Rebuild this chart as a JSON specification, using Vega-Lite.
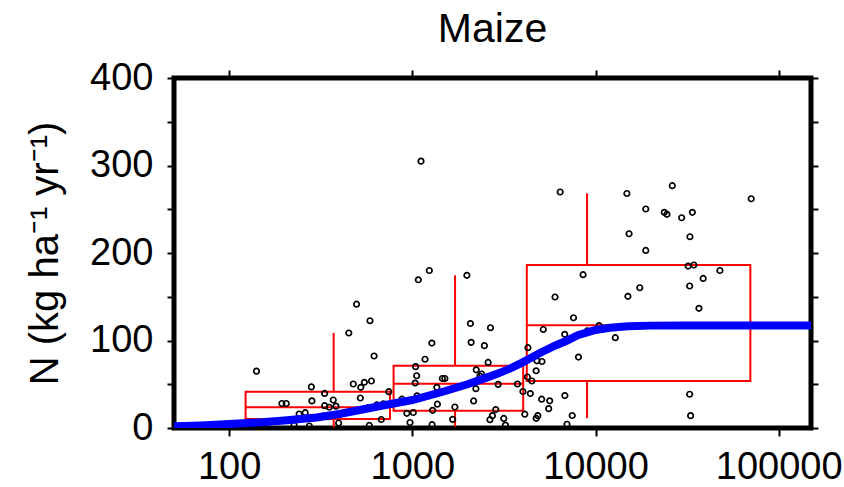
{
  "$schema": "https://vega.github.io/schema/vega-lite/v6.json",
  "width": 637,
  "height": 350,
  "autosize": "none",
  "padding": {"left": 174, "top": 78, "right": 33, "bottom": 59},
  "background": "white",
  "title": {"text": "Maize", "font": "Liberation Sans", "fontSize": 41, "fontWeight": "normal", "color": "black", "anchor": "middle", "offset": 8},
  "config": {
    "view": {"stroke": "black", "strokeWidth": 5},
    "axis": {"domain": false, "grid": false, "tickColor": "black", "tickWidth": 2, "labelColor": "black", "labelFont": "Liberation Sans", "labelFontSize": 38, "titleFont": "Liberation Sans", "titleFontSize": 40, "titleFontWeight": "normal", "titleColor": "black"}
  },
  "datasets": {
    "boxes": [
      {"x1": 123, "x2": 755, "xw": 372, "lo": 1, "q1": 10.3, "med": 23.7, "q3": 41.5, "hi": 108.6},
      {"x1": 790, "x2": 4027, "xw": 1711, "lo": 1.5, "q1": 19.8, "med": 50.6, "q3": 71.2, "hi": 174.5},
      {"x1": 4214, "x2": 70000, "xw": 8987, "lo": 11.1, "q1": 53.7, "med": 117.3, "q3": 186.3, "hi": 268.2}
    ],
    "pts": [
      {"x": 141, "n": 65}, {"x": 205, "n": 28}, {"x": 194, "n": 28}, {"x": 241, "n": 16}, {"x": 260, "n": 17.5}, {"x": 281, "n": 47}, {"x": 283, "n": 31}, {"x": 332, "n": 39.5}, {"x": 332, "n": 25.5}, {"x": 352, "n": 23.7}, {"x": 383, "n": 25}, {"x": 370, "n": 32}, {"x": 326, "n": 13.7}, {"x": 347, "n": 13}, {"x": 396, "n": 5.7}, {"x": 450, "n": 108.6}, {"x": 496, "n": 141.5}, {"x": 587, "n": 122.6}, {"x": 618, "n": 82.3}, {"x": 476, "n": 50.3}, {"x": 523, "n": 46.5}, {"x": 547, "n": 52.2}, {"x": 598, "n": 53.7}, {"x": 520, "n": 34.3}, {"x": 575, "n": 23.2}, {"x": 641, "n": 26.5}, {"x": 695, "n": 27.7}, {"x": 677, "n": 9.7}, {"x": 582, "n": 2.9}, {"x": 744, "n": 41.5}, {"x": 226, "n": 3.4}, {"x": 274, "n": 2.3},
      {"x": 1115, "n": 305}, {"x": 1238, "n": 180}, {"x": 1078, "n": 169.4}, {"x": 1985, "n": 174.5}, {"x": 2075, "n": 119.4}, {"x": 2669, "n": 114.6}, {"x": 1278, "n": 97.1}, {"x": 2094, "n": 97.9}, {"x": 2473, "n": 94.1}, {"x": 1173, "n": 78.6}, {"x": 1042, "n": 70.1}, {"x": 2592, "n": 74.9}, {"x": 2232, "n": 66.5}, {"x": 1056, "n": 59.7}, {"x": 1458, "n": 56.6}, {"x": 1505, "n": 56.6}, {"x": 2388, "n": 61.7}, {"x": 2338, "n": 59.4}, {"x": 1036, "n": 51.4}, {"x": 1361, "n": 46.5}, {"x": 2223, "n": 44.9}, {"x": 2940, "n": 49.9}, {"x": 3748, "n": 50.3}, {"x": 1061, "n": 36.8}, {"x": 877, "n": 32.9}, {"x": 1370, "n": 27.2}, {"x": 2160, "n": 30.9}, {"x": 1707, "n": 24}, {"x": 1290, "n": 20.2}, {"x": 933, "n": 16.8}, {"x": 1012, "n": 17.7}, {"x": 2853, "n": 21.1}, {"x": 2736, "n": 14.1}, {"x": 2652, "n": 9.5}, {"x": 3155, "n": 10.9}, {"x": 4110, "n": 15.8}, {"x": 971, "n": 6.3}, {"x": 1281, "n": 3.8}, {"x": 1660, "n": 9.9}, {"x": 3222, "n": 3.4}, {"x": 4276, "n": 91.8}, {"x": 4404, "n": 39.4}, {"x": 4015, "n": 41.7}, {"x": 4250, "n": 58.3},
      {"x": 6412, "n": 269.7}, {"x": 14830, "n": 268}, {"x": 26240, "n": 276.9}, {"x": 70740, "n": 262}, {"x": 18800, "n": 250.3}, {"x": 23730, "n": 246.5}, {"x": 24530, "n": 244.2}, {"x": 29510, "n": 240.3}, {"x": 33760, "n": 246.5}, {"x": 15240, "n": 222}, {"x": 32750, "n": 218.6}, {"x": 18800, "n": 202.9}, {"x": 8550, "n": 175.2}, {"x": 17440, "n": 160.3}, {"x": 6010, "n": 149.7}, {"x": 15020, "n": 150.5}, {"x": 32030, "n": 185.1}, {"x": 34420, "n": 186.3}, {"x": 47740, "n": 180}, {"x": 38680, "n": 170.9}, {"x": 32640, "n": 162.3}, {"x": 36680, "n": 136.8}, {"x": 7580, "n": 126}, {"x": 5185, "n": 112.6}, {"x": 6790, "n": 107.1}, {"x": 9010, "n": 110.9}, {"x": 10450, "n": 117.1}, {"x": 12820, "n": 103.2}, {"x": 8070, "n": 81.1}, {"x": 5100, "n": 76}, {"x": 4790, "n": 76.8}, {"x": 4740, "n": 65.4}, {"x": 4490, "n": 53.7}, {"x": 5080, "n": 32.9}, {"x": 5620, "n": 31.1}, {"x": 5550, "n": 22.1}, {"x": 6800, "n": 37.1}, {"x": 7460, "n": 14.3}, {"x": 4840, "n": 14.1}, {"x": 4740, "n": 11.1}, {"x": 6985, "n": 4.3}, {"x": 32640, "n": 38.6}, {"x": 33040, "n": 14.1}
    ],
    "curve": [
      {"x": 50, "n": 2}, {"x": 70, "n": 3}, {"x": 100, "n": 4.5}, {"x": 150, "n": 6.5}, {"x": 200, "n": 8.5}, {"x": 300, "n": 12}, {"x": 400, "n": 16}, {"x": 500, "n": 20}, {"x": 700, "n": 26}, {"x": 1000, "n": 32}, {"x": 1500, "n": 42}, {"x": 2000, "n": 50}, {"x": 2500, "n": 57}, {"x": 3000, "n": 63}, {"x": 3500, "n": 69}, {"x": 4000, "n": 75}, {"x": 5000, "n": 86}, {"x": 6000, "n": 94}, {"x": 7000, "n": 100}, {"x": 8000, "n": 106}, {"x": 10000, "n": 112}, {"x": 12000, "n": 114.5}, {"x": 15000, "n": 116.3}, {"x": 20000, "n": 117}, {"x": 30000, "n": 117.2}, {"x": 50000, "n": 117.2}, {"x": 100000, "n": 117.2}, {"x": 150000, "n": 117.2}
    ]
  },
  "layer": [
    {
      "data": {"name": "boxes"},
      "mark": {"type": "rect", "fill": null, "fillOpacity": 0, "stroke": "#ff0000", "strokeWidth": 2},
      "encoding": {
        "x": {"field": "x1", "type": "quantitative", "scale": {"type": "log", "domain": [50, 150000], "nice": false},
              "axis": {"orient": "bottom", "values": [100, 1000, 10000, 100000], "format": "d", "tickSize": 8, "labelPadding": 12, "title": null, "labelFlush": false}},
        "x2": {"field": "x2"},
        "y": {"field": "q1", "type": "quantitative", "scale": {"domain": [0, 400], "nice": false, "zero": true},
              "axis": {"orient": "left", "values": [0, 50, 100, 150, 200, 250, 300, 350, 400], "labelExpr": "datum.value % 100 == 0 ? datum.label : ''", "tickSize": 7, "labelPadding": 14, "title": "N (kg ha\u207b\u00b9 yr\u207b\u00b9)", "titlePadding": 24}},
        "y2": {"field": "q3"}
      }
    },
    {
      "data": {"name": "boxes"},
      "mark": {"type": "rule", "color": "#ff0000", "strokeWidth": 2},
      "encoding": {
        "x": {"field": "x1", "type": "quantitative", "scale": {"type": "log", "domain": [50, 150000], "nice": false},
              "axis": {"orient": "top", "values": [100, 1000, 10000, 100000], "labels": false, "tickSize": 8, "title": null}},
        "x2": {"field": "x2"},
        "y": {"field": "med", "type": "quantitative", "scale": {"domain": [0, 400], "nice": false},
              "axis": {"orient": "right", "values": [0, 50, 100, 150, 200, 250, 300, 350, 400], "labels": false, "tickSize": 7, "title": null}}
      }
    },
    {
      "data": {"name": "boxes"},
      "mark": {"type": "rule", "color": "#ff0000", "strokeWidth": 2},
      "encoding": {
        "x": {"field": "xw", "type": "quantitative", "scale": {"type": "log", "domain": [50, 150000], "nice": false}, "axis": null},
        "y": {"field": "q3", "type": "quantitative", "scale": {"domain": [0, 400], "nice": false}, "axis": null},
        "y2": {"field": "hi"}
      }
    },
    {
      "data": {"name": "boxes"},
      "mark": {"type": "rule", "color": "#ff0000", "strokeWidth": 2},
      "encoding": {
        "x": {"field": "xw", "type": "quantitative", "scale": {"type": "log", "domain": [50, 150000], "nice": false}, "axis": null},
        "y": {"field": "lo", "type": "quantitative", "scale": {"domain": [0, 400], "nice": false}, "axis": null},
        "y2": {"field": "q1"}
      }
    },
    {
      "data": {"name": "pts"},
      "mark": {"type": "point", "shape": "circle", "filled": false, "stroke": "black", "strokeWidth": 1.7, "size": 30, "opacity": 1},
      "encoding": {
        "x": {"field": "x", "type": "quantitative", "scale": {"type": "log", "domain": [50, 150000], "nice": false}, "axis": null},
        "y": {"field": "n", "type": "quantitative", "scale": {"domain": [0, 400], "nice": false}, "axis": null}
      }
    },
    {
      "data": {"name": "curve"},
      "mark": {"type": "line", "color": "#0000ff", "strokeWidth": 8, "clip": true},
      "encoding": {
        "x": {"field": "x", "type": "quantitative", "scale": {"type": "log", "domain": [50, 150000], "nice": false}, "axis": null},
        "y": {"field": "n", "type": "quantitative", "scale": {"domain": [0, 400], "nice": false}, "axis": null}
      }
    }
  ],
  "resolve": {"axis": {"x": "independent", "y": "independent"}}
}
